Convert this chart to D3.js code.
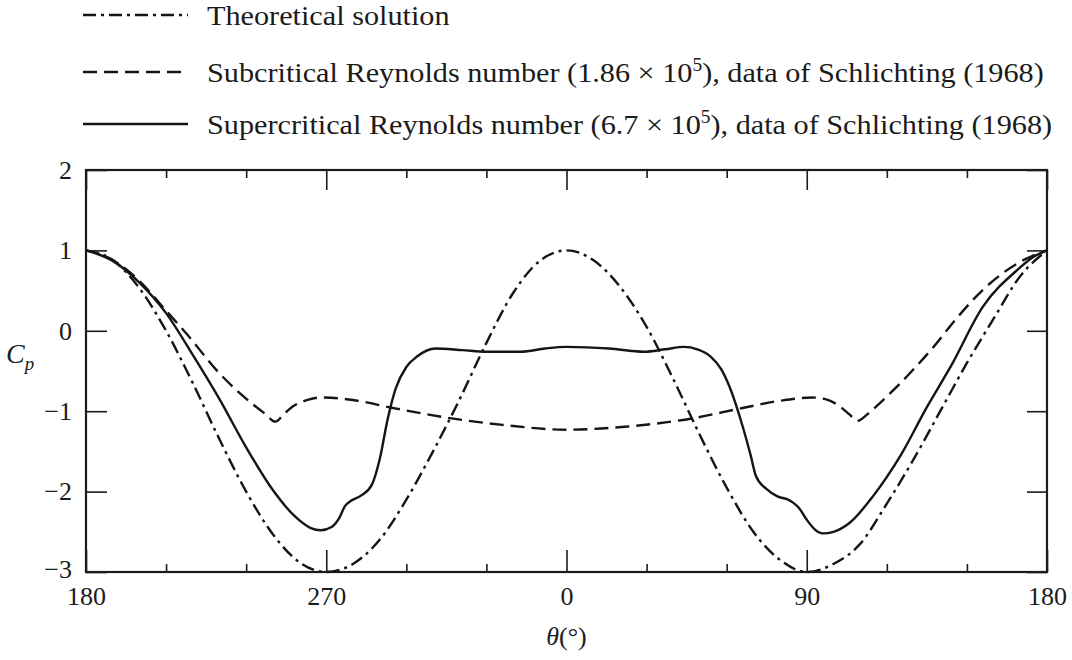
<!DOCTYPE html>
<meta charset="utf-8">
<style>
  body { margin: 0; background: #fff; }
  svg { font-family: "Liberation Serif", "DejaVu Serif", serif; }
  .axis .domain { stroke: none; }
  .axis line { stroke: #1b1b1b; stroke-width: 1.6px; }
  .axis text { fill: #1b1b1b; font-size: 26px; font-family: "Liberation Serif", "DejaVu Serif", serif; }
  .curve { fill: none; stroke: #151515; stroke-width: 2.4px; }
</style>
<body>
<script src="https://cdn.jsdelivr.net/npm/d3@7"></script>
<script>

// position along the axis (deg from left edge) and the label shown there
var xTicks = [0, 90, 180, 270, 360];
var xTickLabels = ["180", "270", "0", "90", "180"];
var xMinor = [30, 60, 120, 150, 210, 240, 300, 330];
var yTicks = [-3, -2, -1, 0, 1, 2];

// theoretical solution (dash-dot)
var theoAngle = [0, 10, 20, 30, 40, 50, 60, 70, 80, 90, 100, 110, 120, 130, 140, 150, 160, 170, 180,
  190, 200, 210, 220, 230, 240, 250, 260, 270, 280, 290, 300, 310, 320, 330, 340, 350, 360];
var theoCp = [1.0, 0.88, 0.53, 0.0, -0.65, -1.35, -2.0, -2.53, -2.88, -3.0, -2.9, -2.6, -2.1, -1.5, -0.85, -0.15, 0.47, 0.87, 1.0,
  0.88, 0.55, 0.05, -0.6, -1.3, -1.95, -2.5, -2.85, -3.0, -2.9, -2.65, -2.15, -1.6, -1.0, -0.4, 0.15, 0.68, 1.0];

// subcritical Re = 1.86e5 (dashed)
var subAngle = [0, 10, 20, 30, 37.5, 50, 62, 67, 71, 74, 78, 83, 88, 100, 115, 137, 156, 180,
  203, 227, 246, 260, 272, 277, 282, 286, 289, 293, 298, 308, 317.5, 326, 336, 349, 360];
var subCp = [1.0, 0.88, 0.62, 0.25, -0.03, -0.53, -0.9, -1.03, -1.13, -1.04, -0.93, -0.86, -0.83, -0.86, -0.96, -1.09, -1.17, -1.23,
  -1.19, -1.09, -0.96, -0.87, -0.83, -0.85, -0.93, -1.04, -1.12, -1.03, -0.88, -0.55, -0.2, 0.15, 0.51, 0.84, 1.0];

// supercritical Re = 6.7e5 (solid)
var supAngle = [0, 10, 20, 30, 40, 50, 60, 70, 78, 84, 88, 92, 95, 97, 99, 103, 107, 110, 113, 116, 120, 124, 131, 141, 150, 163, 172, 180,
  196, 209, 217, 224, 229, 234, 238, 241, 246, 249, 251, 255, 259, 263, 265, 267, 270, 273, 276, 280, 286, 295, 305, 315, 324, 336, 349, 355, 360];
var supCp = [1.0, 0.87, 0.6, 0.22, -0.3, -0.85, -1.45, -1.98, -2.3, -2.45, -2.48, -2.44, -2.32, -2.18, -2.12, -2.05, -1.92, -1.6, -1.1, -0.72, -0.45, -0.32, -0.22, -0.24, -0.26, -0.26, -0.22, -0.2,
  -0.22, -0.26, -0.23, -0.2, -0.23, -0.32, -0.48, -0.69, -1.19, -1.55, -1.81, -1.97, -2.06, -2.1, -2.14, -2.2, -2.35, -2.47, -2.52, -2.5, -2.39, -2.05, -1.56, -0.95, -0.44, 0.3, 0.76, 0.92, 1.0];

var legendLabels = [
  ["Theoretical solution"],
  ["Subcritical Reynolds number (1.86 \u00d7 10", "5", "), data of Schlichting (1968)"],
  ["Supercritical Reynolds number (6.7 \u00d7 10", "5", "), data of Schlichting (1968)"]
];
var dashes = ["13,5,3,5", "14,7", null];

var width = 1072, height = 660;
var margin = { top: 170, right: 25, bottom: 88, left: 86 };

var svg = d3.select("body").append("svg")
  .attr("width", width)
  .attr("height", height);

var x = d3.scaleLinear().domain([0, 360]).range([margin.left, width - margin.right]);
var y = d3.scaleLinear().domain([-3, 2]).range([height - margin.bottom, margin.top]);
var plotH = y(-3) - y(2);

// ticks pointing inward on all four sides
svg.append("g").attr("class", "axis")
  .attr("transform", "translate(0," + y(-3) + ")")
  .call(d3.axisBottom(x).tickValues(xTicks).tickSize(-22).tickPadding(-2)
    .tickFormat(function (d, i) { return xTickLabels[i]; }))
  .selectAll("text").attr("y", 33).attr("dy", null);

svg.append("g").attr("class", "axis")
  .attr("transform", "translate(0," + y(-3) + ")")
  .call(d3.axisBottom(x).tickValues(xMinor).tickSize(-8).tickFormat(""));

svg.append("g").attr("class", "axis")
  .attr("transform", "translate(0," + y(2) + ")")
  .call(d3.axisTop(x).tickValues(xTicks).tickSize(-20).tickFormat(""));

svg.append("g").attr("class", "axis")
  .attr("transform", "translate(0," + y(2) + ")")
  .call(d3.axisTop(x).tickValues(xMinor).tickSize(-8).tickFormat(""));

svg.append("g").attr("class", "axis")
  .attr("transform", "translate(" + x(0) + ",0)")
  .call(d3.axisLeft(y).tickValues(yTicks).tickSize(-21).tickPadding(14)
    .tickFormat(function (d) { return d < 0 ? "\u2212" + Math.abs(d) : d; }))
  .selectAll("text").attr("dy", function (d) { return d === -3 ? "0.22em" : "0.32em"; });

svg.append("g").attr("class", "axis")
  .attr("transform", "translate(" + x(360) + ",0)")
  .call(d3.axisRight(y).tickValues(yTicks).tickSize(-20).tickFormat(""));

// frame
svg.append("rect")
  .attr("x", x(0)).attr("y", y(2))
  .attr("width", x(360) - x(0)).attr("height", plotH)
  .attr("fill", "none").attr("stroke", "#1b1b1b").attr("stroke-width", 2.2);

var line = d3.line()
  .x(function (d) { return x(d[0]); })
  .y(function (d) { return y(d[1]); })
  .curve(d3.curveMonotoneX);

var series = [
  d3.zip(theoAngle, theoCp),
  d3.zip(subAngle, subCp),
  d3.zip(supAngle, supCp)
];

series.forEach(function (s, i) {
  svg.append("path")
    .attr("class", "curve")
    .attr("d", line(s))
    .attr("stroke-dasharray", dashes[i]);
});

// legend (the source type is slightly wide, hence the horizontal stretch)
var legendY = [15, 72, 124];
legendLabels.forEach(function (parts, i) {
  svg.append("line")
    .attr("class", "curve")
    .attr("x1", 83).attr("x2", 188)
    .attr("y1", legendY[i]).attr("y2", legendY[i])
    .attr("stroke-dasharray", dashes[i]);
  var t = svg.append("text")
    .attr("transform", "translate(207," + (legendY[i] + 10) + ") scale(1.08,1)")
    .attr("font-size", 28).attr("fill", "#1b1b1b");
  t.append("tspan").text(parts[0]);
  if (parts.length > 1) {
    t.append("tspan").attr("dy", -11).attr("font-size", 18).text(parts[1]);
    t.append("tspan").attr("dy", 11).text(parts[2]);
  }
});

// axis titles
var yl = svg.append("text")
  .attr("x", 6).attr("y", y(-0.4))
  .attr("font-size", 28).attr("fill", "#1b1b1b").attr("font-style", "italic");
yl.append("tspan").text("C");
yl.append("tspan").attr("dy", 7).attr("font-size", 19).text("p");

svg.append("text")
  .attr("x", x(180)).attr("y", 645)
  .attr("text-anchor", "middle")
  .attr("font-size", 26).attr("fill", "#1b1b1b")
  .html("<tspan font-style='italic'>\u03b8</tspan>(\u00b0)");

</script>
</body>
